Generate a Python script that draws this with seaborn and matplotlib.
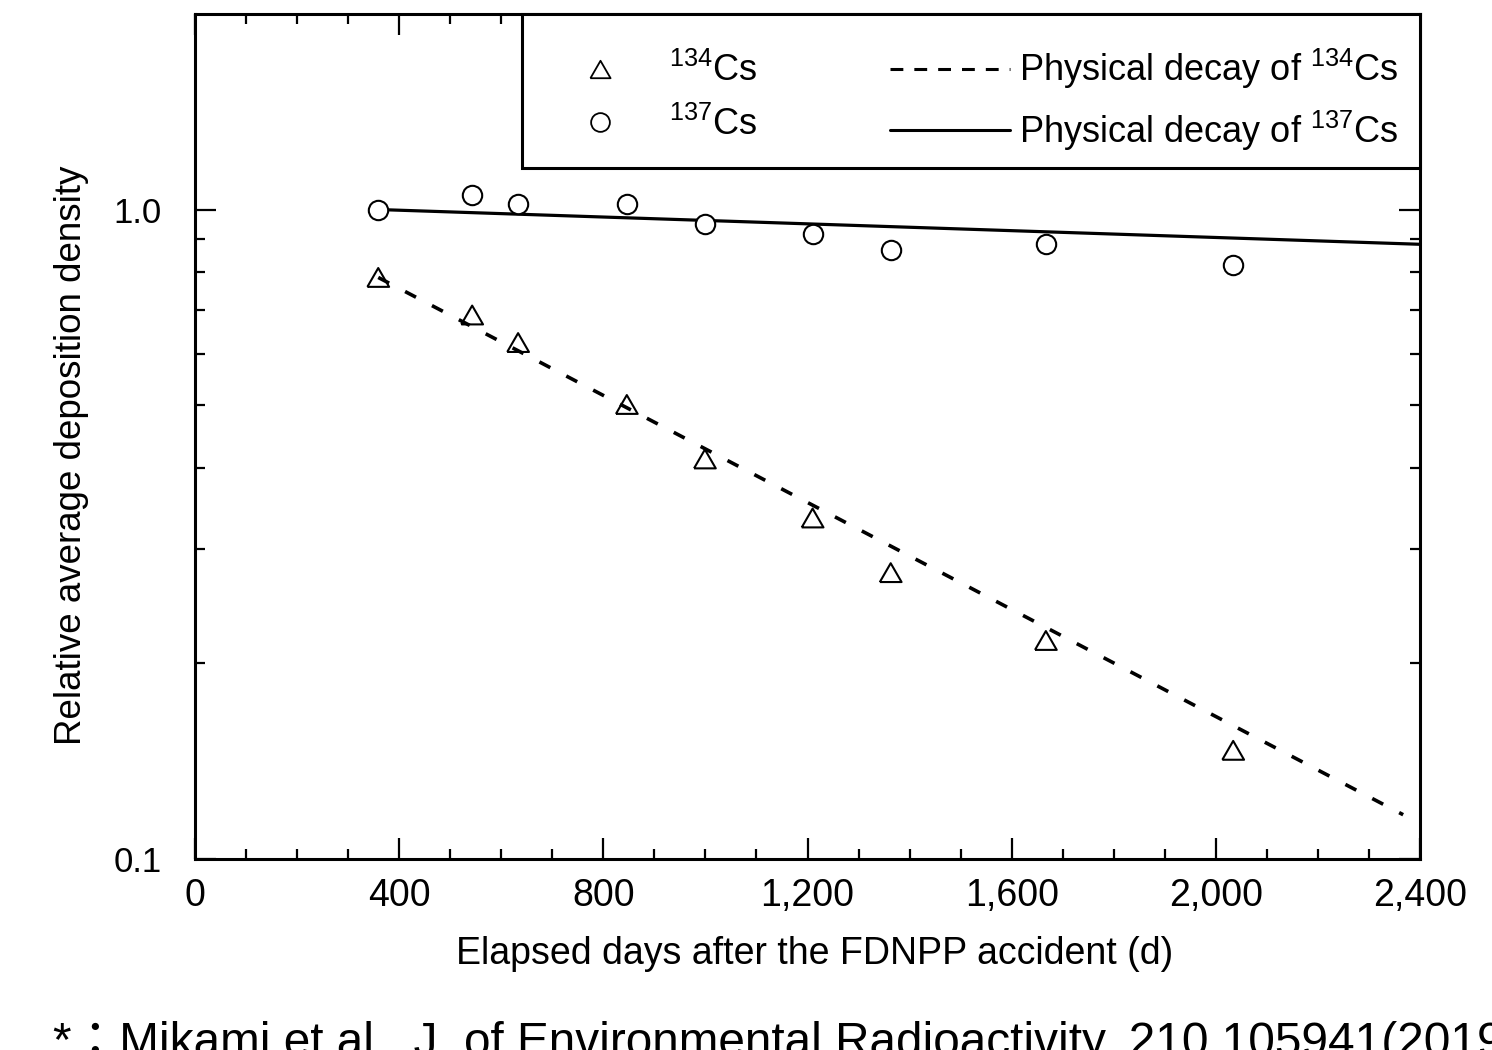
import numpy as np
import pandas as pd
import matplotlib
matplotlib.use("Agg")
import matplotlib.pyplot as plt
import seaborn as sns
from matplotlib.lines import Line2D
from matplotlib.markers import MarkerStyle
from matplotlib.patches import Rectangle
from matplotlib.ticker import FixedLocator, FixedFormatter, NullFormatter

# ---------------- data ----------------
days = [359, 543, 633, 846, 999, 1210, 1363, 1667, 2034]
cs134 = [0.786, 0.688, 0.624, 0.501, 0.413, 0.335, 0.276, 0.217, 0.147]
cs137 = [1.000, 1.051, 1.021, 1.021, 0.951, 0.917, 0.865, 0.886, 0.820]

decay134_days = [359, 2367]
decay134_vals = [0.786, 0.117]
decay137_days = [359, 2400]
decay137_vals = [1.000, 0.884]

x_ticks = [0, 400, 800, 1200, 1600, 2000, 2400]
x_tick_labels = ["0", "400", "800", "1,200", "1,600", "2,000", "2,400"]
x_minor = [100, 200, 300, 500, 600, 700, 900, 1000, 1100, 1300, 1400, 1500,
           1700, 1800, 1900, 2100, 2200, 2300]
y_ticks = [0.1, 1.0]
y_tick_labels = ["0.1", "1.0"]
y_minor = [0.2, 0.3, 0.4, 0.5, 0.6, 0.7, 0.8, 0.9]

x_label = "Elapsed days after the FDNPP accident (d)"
y_label = "Relative average deposition density"
legend_labels = [r"$^{134}$Cs", r"$^{137}$Cs",
                 r"Physical decay of $^{134}$Cs", r"Physical decay of $^{137}$Cs"]
footer = "*：Mikami et al., J. of Environmental Radioactivity, 210,105941(2019)"

# ---------------- style ----------------
sns.set_theme(style="ticks")
SANS = ["Liberation Sans", "DejaVu Sans"]
plt.rcParams["font.family"] = SANS
plt.rcParams["mathtext.fontset"] = "custom"
plt.rcParams["mathtext.rm"] = "Liberation Sans"
plt.rcParams["mathtext.it"] = "Liberation Sans"
plt.rcParams["mathtext.default"] = "rm"

W, H = 1492, 1050
fig = plt.figure(figsize=(W / 100, H / 100), dpi=100)
ax = fig.add_axes([195 / W, 1 - 859 / H, 1225 / W, 845 / H])

tri = MarkerStyle([(-1, -0.866), (1, -0.866), (0, 0.866), (-1, -0.866)])

# decay lines
sns.lineplot(x=decay137_days, y=decay137_vals, ax=ax, color="black",
             linewidth=2.3, linestyle="-", zorder=2)
sns.lineplot(x=decay134_days, y=decay134_vals, ax=ax, color="black",
             linewidth=2.6, linestyle=(0, (3.4, 5.0)), zorder=2)

# measured points
sns.scatterplot(x=days, y=cs134, ax=ax, marker=tri, s=245,
                facecolor="none", edgecolor="black", linewidth=1.5, zorder=3)
sns.scatterplot(x=days, y=cs137, ax=ax, marker="o", s=195,
                facecolor="white", edgecolor="black", linewidth=1.5, zorder=3)

ax.set_yscale("log")
ax.set_xlim(0, 2400)
ax.set_ylim(0.1, 2.0)

ax.xaxis.set_major_locator(FixedLocator(x_ticks))
ax.xaxis.set_major_formatter(FixedFormatter(x_tick_labels))
ax.xaxis.set_minor_locator(FixedLocator(x_minor))
ax.xaxis.set_minor_formatter(NullFormatter())
ax.yaxis.set_major_locator(FixedLocator(y_ticks))
ax.yaxis.set_major_formatter(FixedFormatter(y_tick_labels))
ax.yaxis.set_minor_locator(FixedLocator(y_minor))
ax.yaxis.set_minor_formatter(NullFormatter())

ax.tick_params(which="both", direction="in", top=True, right=True,
               color="black", width=1.6)
ax.tick_params(which="major", length=15)
ax.tick_params(which="minor", length=7.5)
ax.tick_params(axis="x", which="major", pad=14, labelsize=27, labelcolor="black")
ax.tick_params(axis="y", which="major", pad=24, labelsize=25, labelcolor="black")

for sp in ax.spines.values():
    sp.set_linewidth(2.2)
    sp.set_color("black")
ax.set_facecolor("white")

ax.set_xlabel(x_label, fontsize=27, color="black", va="center")
ax.xaxis.set_label_coords(0.506, -0.1124)
ax.set_ylabel(y_label, fontsize=26.5, color="black", va="center")
ax.yaxis.set_label_coords(-0.101, 0.478)

# legend box (frame drawn as an axes-anchored rectangle)
box = Rectangle(((522 - 195) / 1225, (859 - 168) / 845),
                (1420 - 522) / 1225, (168 - 14) / 845,
                transform=ax.transAxes, facecolor="white", edgecolor="black",
                linewidth=2.2, zorder=4, clip_on=False)
ax.add_patch(box)

handles = [
    Line2D([], [], ls="none", marker=tri, ms=14.5, mfc="none", mec="black", mew=1.3),
    Line2D([], [], ls="none", marker="o", ms=13.5, mfc="none", mec="black", mew=1.3),
    Line2D([], [], color="black", lw=2.2, ls=(0, (4.2, 3.6))),
    Line2D([], [], color="black", lw=2.2, ls="-"),
]
FS = 26
fpx = FS * 100 / 72
leg = ax.legend(handles, legend_labels, loc="upper right",
                bbox_to_anchor=((1399 - 195) / 1225, (859 - 47) / 845),
                borderaxespad=0, borderpad=0, ncol=2,
                prop={"family": SANS, "size": FS},
                handlelength=120 / fpx, handletextpad=9 / fpx,
                columnspacing=133 / fpx, labelspacing=0.48,
                frameon=False)
leg.set_zorder(5)
for t in leg.get_texts():
    t.set_color("black")

fig.text(53 / W, -6 / H, footer, fontsize=34.4, ha="left", va="baseline",
         family=["Liberation Sans", "Noto Sans CJK JP", "DejaVu Sans"], color="black")

fig.savefig("out.png", dpi=100, facecolor="white")
